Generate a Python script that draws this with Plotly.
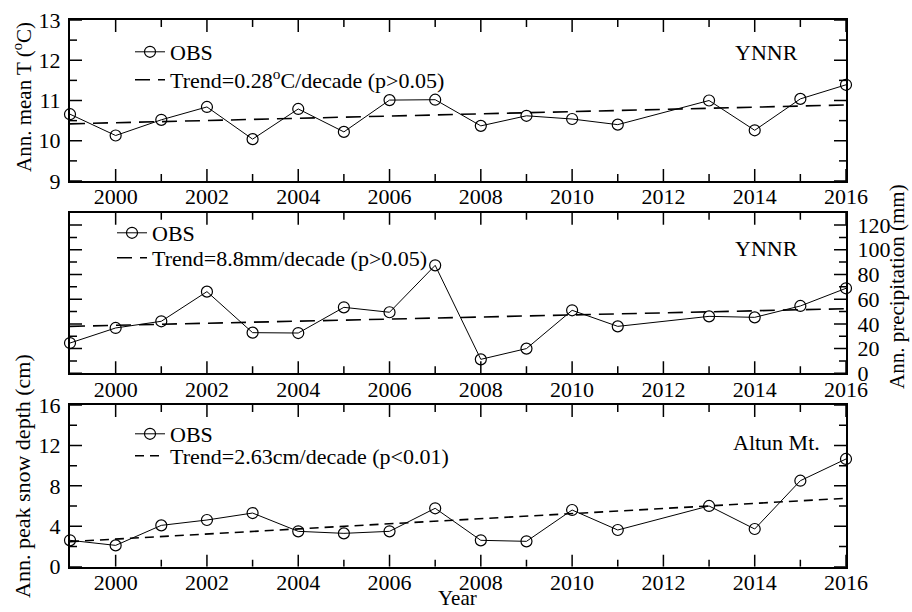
import plotly.graph_objects as go

years = [1999, 2000, 2001, 2002, 2003, 2004, 2005, 2006, 2007, 2008, 2009, 2010, 2011, 2013, 2014, 2015, 2016]
temp = [10.66, 10.13, 10.52, 10.84, 10.04, 10.79, 10.22, 11.01, 11.02, 10.37, 10.62, 10.54, 10.40, 11.00, 10.26, 11.04, 11.39]
precip = [24.5, 36.7, 42.1, 66.1, 32.9, 32.6, 53.4, 49.4, 87.4, 11.3, 20.0, 51.0, 38.0, 46.1, 45.3, 54.5, 68.8]
snow = [2.61, 2.11, 4.09, 4.62, 5.31, 3.50, 3.30, 3.50, 5.78, 2.61, 2.51, 5.61, 3.63, 6.01, 3.73, 8.51, 10.66]

trend_years = [1999, 2016]
temp_trend = [10.42, 10.89]
precip_trend = [38.0, 52.3]
snow_trend = [2.48, 6.77]

legend_temp = "Trend=0.28<sup>o</sup>C/decade (p&gt;0.05)"
legend_precip = "Trend=8.8mm/decade (p&gt;0.05)"
legend_snow = "Trend=2.63cm/decade (p&lt;0.01)"

# tick values
x_major = [2000, 2002, 2004, 2006, 2008, 2010, 2012, 2014, 2016]
x_minor = [2001, 2003, 2005, 2007, 2009, 2011, 2013, 2015]
temp_major = [9, 10, 11, 12, 13]
temp_minor = [9.5, 10.5, 11.5, 12.5]
precip_major = [0, 20, 40, 60, 80, 100, 120]
precip_minor = [10, 30, 50, 70, 90, 110]
snow_major = [0, 4, 8, 12, 16]
snow_minor = [2, 6, 10, 14]

FONT = "Liberation Serif"
W, H = 912, 612
fig = go.Figure()

# panel geometry (pixels)
x_left, x_right = 70, 846
panels = {1: (20, 181), 2: (212.7, 373.3), 3: (405, 566.7)}
xdom = [x_left / W, x_right / W]
def ydom(i):
    t, b = panels[i]
    return [1 - b / H, 1 - t / H]

XR = [1999, 2016]
yinfo = {1: ([9, 13], temp_major, temp_minor),
         2: ([0, 130], precip_major, precip_minor),
         3: ([0, 16], snow_major, snow_minor)}

MAJ_LEN, MIN_LEN = 12, 7

def add_ticks(i):
    """Tick marks pointing into the panel, built from the tick value lists."""
    xa = "x" if i == 1 else f"x{i}"
    ya = "y" if i == 1 else f"y{i}"
    yr, ymaj, ymin = yinfo[i]
    t, b = panels[i]
    y_per_px = (yr[1] - yr[0]) / (b - t)
    x_per_px = (XR[1] - XR[0]) / (x_right - x_left)
    xs, ys = [], []
    for vals, ln in ((x_major, MAJ_LEN), (x_minor, MIN_LEN)):
        d = ln * y_per_px
        for v in vals:
            xs += [v, v, None, v, v, None]
            ys += [yr[0], yr[0] + d, None, yr[1], yr[1] - d, None]
    for vals, ln in ((ymaj, MAJ_LEN), (ymin, MIN_LEN)):
        d = ln * x_per_px
        for v in vals:
            xs += [XR[0], XR[0] + d, None, XR[1], XR[1] - d, None]
            ys += [v, v, None, v, v, None]
    fig.add_trace(go.Scatter(x=xs, y=ys, mode="lines", line=dict(color="black", width=1.5),
                             hoverinfo="skip", showlegend=False, cliponaxis=False,
                             xaxis=xa, yaxis=ya))

def add_panel(idx, vals, trend, trend_name, dash, leg_obs, leg_trend):
    xa = "x" if idx == 1 else f"x{idx}"
    ya = "y" if idx == 1 else f"y{idx}"
    add_ticks(idx)
    fig.add_trace(go.Scatter(
        x=years, y=vals, mode="lines+markers", name="OBS",
        line=dict(color="black", width=1),
        marker=dict(symbol="circle-open", size=11, color="black", line=dict(width=1.2, color="black")),
        cliponaxis=False, xaxis=xa, yaxis=ya, legend=leg_obs))
    fig.add_trace(go.Scatter(
        x=trend_years, y=trend, mode="lines", name=trend_name,
        line=dict(color="black", width=1.6, dash=dash),
        xaxis=xa, yaxis=ya, legend=leg_trend))

add_panel(1, temp, temp_trend, legend_temp, "15px,8px", "legend", "legend4")
add_panel(2, precip, precip_trend, legend_precip, "15px,8px", "legend2", "legend5")
add_panel(3, snow, snow_trend, legend_snow, "9px,6px", "legend3", "legend6")

tickfont = dict(family=FONT, size=22, color="black")
axes = {}
def name(prefix, n):
    return prefix + ("axis" if n == 1 else f"axis{n}")

for i in (1, 2, 3):
    yr, ymaj, ymin = yinfo[i]
    axes[name("x", i)] = dict(domain=xdom, range=XR, anchor="y" if i == 1 else f"y{i}", automargin=False,
                              tickvals=x_major, ticks="", showline=True, linewidth=2, linecolor="black",
                              mirror=True, showgrid=False, zeroline=False, tickfont=tickfont,
                              ticklabelstandoff=-5)
    axes[name("y", i)] = dict(domain=ydom(i), range=yr, anchor="x" if i == 1 else f"x{i}", automargin=False,
                              tickvals=ymaj, ticks="", showline=True, linewidth=2, linecolor="black",
                              mirror=True, showgrid=False, zeroline=False, tickfont=tickfont,
                              ticklabelstandoff=3 if i != 2 else 5,
                              side="right" if i == 2 else "left")

fig.update_layout(template="none", **axes)

legfont = dict(family=FONT, size=22, color="black")
def leg(xpx, ypx):
    return dict(x=xpx / W, y=1 - ypx / H, xanchor="left", yanchor="top",
                bgcolor="rgba(0,0,0,0)", borderwidth=0, font=legfont, itemwidth=30)

fig.update_layout(
    legend=leg(130, 31), legend4=leg(130, 59),
    legend2=leg(112, 212), legend5=leg(112, 237),
    legend3=leg(130, 413), legend6=leg(130, 435),
    showlegend=True,
    width=W, height=H, margin=dict(l=0, r=0, t=0, b=0),
    paper_bgcolor="white", plot_bgcolor="white",
    font=dict(family=FONT, size=21, color="black"),
)

ann_font = dict(family=FONT, size=22, color="black")
tfont = dict(family=FONT, size=21, color="black")
def ann(text, x, y, xref="paper", yref="paper", font=tfont, angle=0, yanchor="middle"):
    return dict(text=text, x=x, y=y, xref=xref, yref=yref, xanchor="center", yanchor=yanchor,
                showarrow=False, font=font, textangle=angle)

annotations = [
    ann("YNNR", 0.898, 0.80, "x domain", "y domain", ann_font),
    ann("YNNR", 0.898, 0.78, "x2 domain", "y2 domain", ann_font),
    ann("Altun Mt.", 0.911, 0.765, "x3 domain", "y3 domain", ann_font),
    ann("Ann. mean T (<sup>o</sup>C)", 22 / W, 1 - 97 / H, angle=-90),
    ann("Ann. precipitation (mm)", 897 / W, 1 - 287 / H, angle=-90),
    ann("Ann. peak snow depth (cm)", 22 / W, 1 - 476 / H, angle=-90,
        font=dict(family=FONT, size=22, color="black")),
    ann("Year", 458 / W, 0, yanchor="bottom"),
]
fig.update_layout(annotations=annotations)

fig.write_html("out.html")
